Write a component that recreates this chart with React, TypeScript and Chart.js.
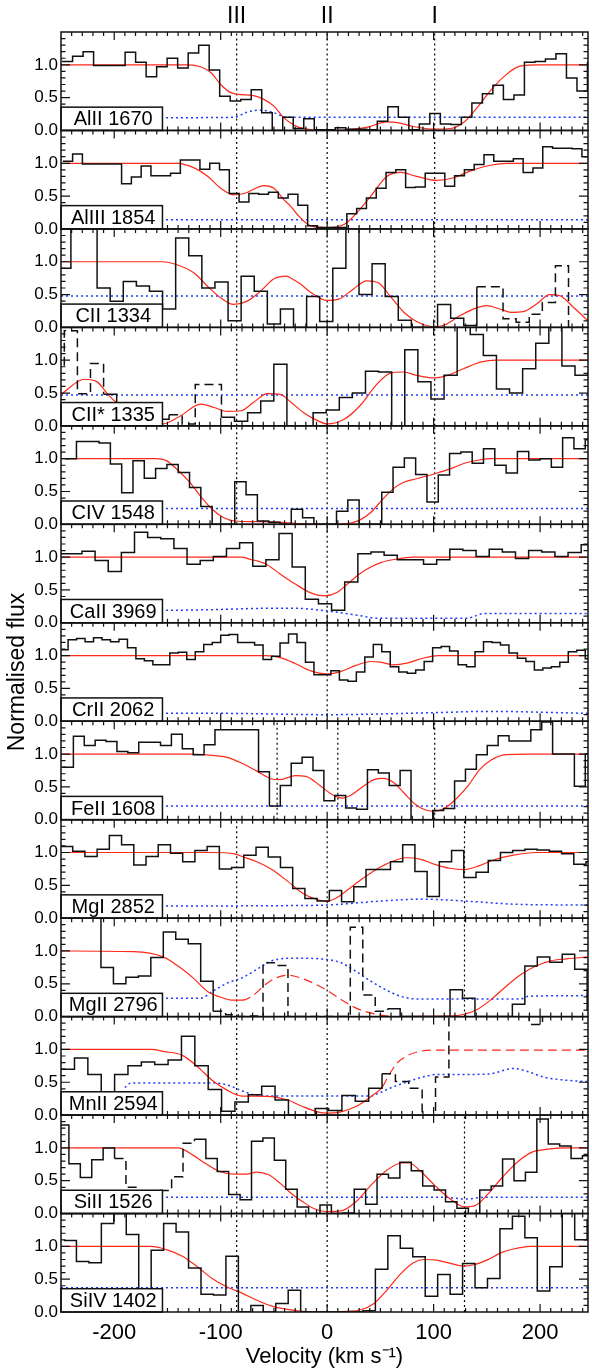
import { useEffect, useRef } from 'react';
import { Chart, registerables } from 'chart.js';

Chart.register(...registerables);

// ---------------- DATA ----------------
const PANEL_LABELS = ['AlII 1670', 'AlIII 1854', 'CII 1334', 'CII* 1335', 'CIV 1548', 'CaII 3969', 'CrII 2062',
  'FeII 1608', 'MgI 2852', 'MgII 2796', 'MnII 2594', 'SiII 1526', 'SiIV 1402'];

const X_TICKS = [-200, -100, 0, 100, 200];
const COMPONENT_VELS = [-85, 0, 101];
const COMPONENT_NAMES = ['III', 'II', 'I'];

// left edge (km/s) of the first pixel bin and bin width (km/s) of each spectrum
const BIN_START = [-249, -248.3, -253, -259.2, -246.1, -255, -251.3, -248.6, -250.5, -247.6, -249.9, -253.3, -247.2];
const BIN_WIDTH = [9.87, 9.2, 12.3, 12.3, 10.62, 12.34, 7.963, 10.23, 11.48, 11.71, 12.56, 10.72, 11.7];

// normalised flux per bin
const FLUX_ALII_1670 = [1.05, 1.13, 1.2, 0.99, 0.99, 0.99, 1.19, 1.04, 0.82, 0.97, 1.1, 0.95, 1.18, 1.3, 0.92, 0.52, 0.45, 0.47, 0.62, 0.27, 0.0, 0.2, 0.03, 0.18, 0.01, 0.01, 0.04, 0.02, 0.02, 0.01, 0.14, 0.36, 0.2, 0.01, 0.1, 0.26, 0.1, 0.09, 0.2, 0.42, 0.56, 0.69, 0.47, 0.54, 1.04, 1.05, 1.09, 1.17, 0.8, 0.6, 1.03];
const FLUX_ALIII_1854 = [1.03, 1.14, 0.99, 0.99, 0.99, 0.99, 0.69, 0.79, 0.96, 0.81, 0.81, 0.85, 1.05, 1.05, 0.91, 1.0, 0.9, 0.54, 0.41, 0.54, 0.53, 0.56, 0.47, 0.53, 0.36, 0.05, 0.02, 0.02, 0.02, 0.23, 0.31, 0.47, 0.62, 0.86, 0.9, 0.63, 0.64, 0.85, 0.85, 0.65, 0.81, 0.9, 0.98, 1.13, 1.03, 1.03, 1.07, 0.86, 0.93, 1.25, 1.23, 1.23, 1.22, 1.1];
const FLUX_CII_1334 = [0.9, 1.7, 1.7, 0.6, 0.4, 0.7, 0.63, 0.55, 0.28, 1.36, 1.09, 0.6, 0.69, 0.1, 0.78, 0.55, 0.05, 0.28, 0.0, 0.47, 0.09, 0.9, 1.7, 0.5, 0.97, 0.47, 0.11, 0.0, 0.0, 0.35, 0.14, 0.03, 0.62, 0.62, 0.13, 0.08, 0.2, 0.38, 0.94, 0.0, 0.0];
const FLUX_CIIS_1335 = [0.9, 1.45, 0.49, 0.95, 0.48, 0.35, 0.2, 0.1, 0.1, 0.17, 0.03, 0.63, 0.63, 0.13, 0.07, 0.2, 0.38, 0.94, 0.0, 0.0, 0.2, 0.24, 0.43, 0.5, 0.83, 0.82, 0.0, 1.16, 0.67, 0.41, 0.77, 1.7, 1.39, 1.07, 0.56, 0.5, 0.87, 1.26, 1.7, 0.91, 0.77, 0.82];
const FLUX_CIV_1548 = [1.0, 1.26, 1.26, 1.24, 0.92, 0.48, 0.97, 0.7, 0.85, 0.91, 0.79, 0.56, 0.27, 0.0, 0.0, 0.65, 0.45, 0.05, 0.03, 0.0, 0.23, 0.1, 0.0, 0.0, 0.2, 0.37, 0.0, 0.0, 0.49, 0.87, 1.01, 0.76, 0.34, 0.75, 1.08, 1.1, 0.93, 1.15, 0.9, 0.78, 1.11, 0.98, 1.0, 0.87, 1.32, 1.15, 1.29];
const FLUX_CAII_3969 = [1.05, 1.05, 1.09, 0.95, 0.78, 1.07, 1.38, 1.3, 1.28, 1.13, 0.89, 0.95, 1.01, 1.13, 1.22, 0.86, 0.96, 1.36, 0.85, 0.36, 0.29, 0.19, 0.62, 1.05, 1.08, 1.03, 0.96, 0.96, 0.89, 0.96, 1.12, 1.1, 1.01, 1.12, 1.08, 0.98, 1.1, 1.08, 1.01, 1.07, 1.19];
const FLUX_CRII_2062 = [1.09, 1.24, 1.26, 1.21, 1.27, 1.24, 1.21, 1.25, 1.12, 0.95, 0.92, 0.86, 0.86, 1.04, 1.05, 0.94, 1.06, 1.17, 1.2, 1.31, 1.32, 1.2, 1.2, 1.16, 0.94, 0.99, 1.19, 1.33, 1.2, 0.9, 0.71, 0.71, 0.77, 0.63, 0.61, 0.75, 0.98, 1.17, 1.06, 0.83, 0.75, 0.73, 0.78, 0.91, 1.12, 1.14, 1.07, 0.86, 0.83, 1.06, 1.21, 1.2, 1.16, 1.04, 0.96, 0.91, 0.78, 0.81, 0.83, 0.9, 1.06, 1.08, 0.95];
const FLUX_FEII_1608 = [0.8, 1.27, 1.13, 1.21, 1.19, 1.04, 1.02, 1.18, 1.18, 1.13, 1.3, 1.08, 0.99, 1.14, 1.37, 1.37, 1.37, 1.37, 0.73, 0.21, 0.52, 0.86, 0.95, 0.75, 0.29, 0.37, 0.18, 0.16, 0.76, 0.71, 0.52, 0.75, 0.0, 0.0, 0.14, 0.17, 0.59, 0.77, 0.99, 1.13, 1.28, 1.2, 1.2, 1.37, 1.49, 1.0, 1.0, 0.51, 1.0];
const FLUX_MGI_2852 = [1.09, 1.02, 0.94, 1.05, 1.26, 1.12, 0.81, 0.94, 1.12, 0.99, 0.86, 1.03, 1.09, 0.75, 0.77, 0.96, 1.08, 0.93, 0.77, 0.45, 0.3, 0.26, 0.42, 0.25, 0.48, 0.74, 0.74, 0.86, 1.12, 0.71, 0.33, 0.86, 1.03, 0.62, 0.7, 0.88, 1.0, 1.03, 1.05, 1.04, 1.02, 0.98, 0.82, 0.86];
const FLUX_MGII_2796 = [1.6, 1.6, 1.6, 0.75, 0.5, 0.6, 0.62, 0.9, 1.29, 1.18, 1.11, 0.54, 0.08, 0.03, 0.0, 0.01, 0.82, 0.78, 0.0, 0.0, 0.0, 0.0, 0.0, 1.36, 0.33, 0.08, 0.12, 0.0, 0.0, 0.0, 0.0, 0.41, 0.28, 0.0, 0.0, 0.0, 0.19, 0.77, 0.91, 0.83, 0.95, 0.72, 0.1];
const FLUX_MNII_2594 = [0.7, 0.87, 0.62, 0.0, 0.62, 0.75, 0.81, 0.77, 0.84, 1.2, 0.75, 0.39, 0.06, 0.2, 0.31, 0.44, 0.23, 0.0, 0.0, 0.1, 0.07, 0.3, 0.21, 0.41, 0.63, 0.51, 0.41, -0.1, 0.58, 1.7, 1.7, 1.7, 1.7, 1.7, 1.7, 1.38, 1.7, 1.7, 1.7, 1.7];
const FLUX_SIII_1526 = [1.35, 0.76, 0.55, 0.82, 1.0, 0.84, 0.4, 0.3, 0.3, 0.35, 0.56, 1.07, 1.13, 0.84, 0.64, 0.29, 0.21, 1.1, 1.15, 0.81, 0.37, 0.1, 0.0, 0.13, 0.0, 0.01, 0.37, 0.14, 0.6, 0.54, 0.78, 0.65, 0.42, 0.36, 0.18, 0.08, 0.0, 0.36, 0.42, 0.83, 0.5, 0.63, 1.44, 1.06, 1.03, 0.84, 0.88];
const FLUX_SIIV_1402 = [1.09, 0.77, 0.75, 1.35, 1.6, 1.18, 0.1, 0.94, 1.35, 1.22, 0.67, 0.27, 0.26, 0.85, 0.0, 0.1, 0.0, 0.13, 0.33, 0.0, 0.0, 0.0, 0.0, 0.0, 0.02, 0.65, 1.16, 0.97, 0.84, 0.24, 0.57, 0.27, 0.74, 0.37, 0.51, 1.27, 1.46, 1.13, 0.32, 0.69, 1.6, 1.1, 1.41];

// fitted model (velocity, flux)
const MODEL_V_ALII_1670 = [-250, -130, -119, -109, -100, -91, -84, -69, -59, -50, -41, -31, -22, 0, 19, 38, 56, 66, 81, 100, 116, 128, 141, 153, 166, 181, 200, 245];
const MODEL_F_ALII_1670 = [1.0, 1.0, 0.97, 0.88, 0.7, 0.58, 0.55, 0.53, 0.47, 0.37, 0.2, 0.08, 0.03, 0.0, 0.01, 0.05, 0.13, 0.12, 0.06, 0.02, 0.03, 0.12, 0.35, 0.6, 0.82, 0.98, 1.0, 1.0];
const MODEL_V_ALIII_1854 = [-250, -140, -125, -112, -100, -88, -78, -59, -50, -41, -34, -28, -16, 0, 17, 28, 41, 56, 69, 84, 103, 119, 134, 153, 169, 245];
const MODEL_F_ALIII_1854 = [1.0, 1.0, 0.93, 0.8, 0.62, 0.52, 0.54, 0.66, 0.62, 0.45, 0.34, 0.22, 0.05, 0.02, 0.08, 0.25, 0.5, 0.8, 0.86, 0.8, 0.74, 0.78, 0.88, 0.97, 1.0, 1.0];
const MODEL_V_CII_1334 = [-250, -155, -144, -125, -112, -100, -88, -75, -62, -50, -38, -34, -25, -16, 0, 11, 25, 37, 48, 59, 72, 84, 100, 111, 125, 141, 150, 162, 173, 184, 197, 209, 219, 231, 245];
const MODEL_F_CII_1334 = [1.0, 1.0, 0.97, 0.83, 0.62, 0.45, 0.35, 0.4, 0.56, 0.74, 0.78, 0.75, 0.66, 0.54, 0.41, 0.43, 0.59, 0.71, 0.68, 0.48, 0.23, 0.09, 0.01, 0.04, 0.18, 0.3, 0.33, 0.28, 0.23, 0.24, 0.36, 0.5, 0.48, 0.31, 0.1];
const MODEL_V_CIIS_1335 = [-250, -228, -216, -206, -197, -185, -170, -154, -138, -119, -106, -94, -81, -69, -56, -44, -34, -22, -9, 0, 16, 31, 47, 59, 72, 84, 100, 113, 128, 144, 159, 245];
const MODEL_F_CIIS_1335 = [0.48, 0.71, 0.67, 0.48, 0.34, 0.2, 0.08, 0.03, 0.15, 0.33, 0.28, 0.22, 0.23, 0.36, 0.49, 0.48, 0.36, 0.2, 0.08, 0.03, 0.1, 0.31, 0.64, 0.8, 0.82, 0.77, 0.73, 0.77, 0.87, 0.97, 1.0, 1.0];
const MODEL_V_CIV_1548 = [-250, -161, -151, -140, -129, -119, -108, -97, -87, -66, -44, -23, 0, 19, 30, 41, 51, 62, 72, 83, 101, 115, 129, 143, 154, 245];
const MODEL_F_CIV_1548 = [1.0, 1.0, 0.97, 0.82, 0.64, 0.43, 0.23, 0.1, 0.05, 0.04, 0.03, 0.01, 0.0, 0.01, 0.06, 0.18, 0.36, 0.54, 0.64, 0.69, 0.77, 0.84, 0.93, 0.98, 1.0, 1.0];
const MODEL_V_CAII_3969 = [-250, -80, -73, -58, -44, -30, -16, -2, 9, 19, 30, 41, 51, 65, 80, 245];
const MODEL_F_CAII_3969 = [1.0, 1.0, 0.97, 0.9, 0.74, 0.59, 0.46, 0.41, 0.46, 0.59, 0.74, 0.85, 0.92, 0.97, 1.0, 1.0];
const MODEL_V_CRII_2062 = [-250, -58, -44, -30, -16, 0, 13, 27, 41, 50, 62, 76, 90, 104, 245];
const MODEL_F_CRII_2062 = [1.0, 1.0, 0.97, 0.88, 0.77, 0.72, 0.76, 0.85, 0.91, 0.9, 0.86, 0.89, 0.96, 1.0, 1.0];
const MODEL_V_FEII_1608 = [-250, -130, -115, -94, -80, -66, -52, -44, -30, -20, -6, 5, 14, 23, 34, 44, 53, 62, 72, 83, 94, 101, 111, 122, 133, 143, 154, 168, 189, 245];
const MODEL_F_FEII_1608 = [1.0, 1.0, 0.99, 0.95, 0.86, 0.74, 0.62, 0.61, 0.67, 0.66, 0.51, 0.38, 0.33, 0.38, 0.51, 0.61, 0.63, 0.57, 0.41, 0.23, 0.14, 0.13, 0.18, 0.33, 0.53, 0.76, 0.91, 0.99, 1.0, 1.0];
const MODEL_V_MGI_2852 = [-250, -108, -87, -80, -66, -52, -37, -23, -9, 0, 9, 19, 34, 48, 62, 74, 87, 101, 115, 129, 143, 157, 175, 196, 245];
const MODEL_F_MGI_2852 = [1.0, 1.0, 0.98, 0.94, 0.86, 0.74, 0.56, 0.38, 0.28, 0.26, 0.31, 0.43, 0.61, 0.76, 0.87, 0.92, 0.9, 0.82, 0.76, 0.74, 0.8, 0.89, 0.96, 1.0, 1.0];
const MODEL_V_MGII_2796 = [-250, -182, -154, -140, -126, -112, -97, -90, -80, -69, -58, -48, -37, -27, -13, 2, 16, 30, 48, 65, 118, 129, 140, 154, 168, 182, 196, 210, 225, 245];
const MODEL_F_MGII_2796 = [1.0, 0.99, 0.91, 0.77, 0.59, 0.38, 0.28, 0.25, 0.25, 0.33, 0.49, 0.59, 0.63, 0.6, 0.51, 0.38, 0.23, 0.11, 0.03, 0.0, 0.01, 0.04, 0.1, 0.26, 0.46, 0.64, 0.77, 0.85, 0.88, 0.91];
const MODEL_V_MNII_2594 = [-250, -165, -154, -136, -122, -108, -94, -80, -66, -52, -37, -23, -9, 0, 13, 27, 41, 52, 56, 65, 76, 87, 101, 245];
const MODEL_F_MNII_2594 = [1.0, 1.0, 0.97, 0.91, 0.74, 0.53, 0.38, 0.29, 0.29, 0.28, 0.23, 0.13, 0.05, 0.03, 0.05, 0.13, 0.28, 0.43, 0.55, 0.78, 0.91, 0.97, 0.99, 0.99];
const MODEL_V_SIII_1526 = [-250, -140, -126, -115, -101, -87, -76, -66, -55, -44, -34, -23, -13, 0, 13, 27, 41, 56, 70, 77, 88, 101, 115, 129, 140, 150, 165, 179, 193, 207, 225, 245];
const MODEL_F_SIII_1526 = [1.0, 1.0, 0.89, 0.77, 0.64, 0.6, 0.6, 0.63, 0.59, 0.46, 0.31, 0.18, 0.08, 0.03, 0.04, 0.18, 0.43, 0.66, 0.77, 0.77, 0.64, 0.43, 0.23, 0.1, 0.13, 0.28, 0.56, 0.79, 0.94, 0.98, 1.0, 1.0];
const MODEL_V_SIIV_1402 = [-250, -165, -151, -136, -122, -108, -94, -83, -66, -52, -37, -23, 0, 19, 31, 44, 56, 69, 81, 91, 103, 116, 128, 138, 150, 163, 175, 191, 245];
const MODEL_F_SIIV_1402 = [1.0, 1.0, 0.95, 0.85, 0.69, 0.51, 0.38, 0.31, 0.18, 0.09, 0.04, 0.01, 0.0, 0.01, 0.03, 0.13, 0.33, 0.58, 0.75, 0.8, 0.79, 0.74, 0.7, 0.72, 0.79, 0.9, 0.96, 1.0, 1.0];

// flux error (velocity, sigma)
const ERR_V_ALII_1670 = [-250, -88, -75, -62, -50, -38, 245];
const ERR_F_ALII_1670 = [0.19, 0.2, 0.28, 0.31, 0.27, 0.2, 0.2];
const ERR_V_FLAT = [-250, 245];
const ERR_F_ALIII_1854 = [0.14, 0.14];
const ERR_F_CII_1334 = [0.48, 0.48];
const ERR_F_CIIS_1335 = [0.47, 0.47];
const ERR_F_CIV_1548 = [0.24, 0.24];
const ERR_V_CAII_3969 = [-250, -108, -58, -30, 0, 30, 48, 132, 147, 245];
const ERR_F_CAII_3969 = [0.17, 0.2, 0.22, 0.22, 0.18, 0.11, 0.07, 0.07, 0.14, 0.14];
const ERR_V_CRII_2062 = [-250, -100, 0, 100, 150, 245];
const ERR_F_CRII_2062 = [0.12, 0.12, 0.1, 0.13, 0.15, 0.12];
const ERR_F_FEII_1608 = [0.21, 0.21];
const ERR_V_MGI_2852 = [-250, -50, 0, 50, 90, 130, 180, 245];
const ERR_F_MGI_2852 = [0.18, 0.19, 0.2, 0.26, 0.29, 0.26, 0.21, 0.2];
const ERR_V_MGII_2796 = [-250, -119, -108, -94, -80, -66, -52, -30, 0, 13, 27, 41, 55, 69, 83, 182, 189, 245];
const ERR_F_MGII_2796 = [0.28, 0.28, 0.38, 0.51, 0.59, 0.72, 0.85, 0.89, 0.87, 0.82, 0.69, 0.54, 0.41, 0.31, 0.27, 0.27, 0.31, 0.32];
const ERR_V_MNII_2594 = [-190, -184, -108, -94, -80, -66, -52, 41, 48, 62, 76, 90, 104, 140, 154, 175, 189, 203, 225, 245];
const ERR_F_MNII_2594 = [0.42, 0.49, 0.49, 0.46, 0.37, 0.3, 0.29, 0.29, 0.33, 0.43, 0.51, 0.58, 0.62, 0.62, 0.63, 0.71, 0.66, 0.58, 0.53, 0.51];
const ERR_V_SIII_1526 = [-250, 110, 129, 150, 245];
const ERR_F_SIII_1526 = [0.25, 0.25, 0.22, 0.25, 0.25];
const ERR_F_SIIV_1402 = [0.37, 0.37];

// velocity components marked in each panel
const VLINES = [[-85, 0, 101], [-85, 0, 101], [-85, 0, 101], [-85, 0, 101], [-85, 0, 101], [0], [0],
  [-47, 10, 101], [-85, 0, 129], [-85, 0, 129], [-85, 0], [-85, 0, 129], [-85, 0, 129]];

// velocity ranges drawn dashed (blended / masked)
const HIST_DASHED = [[], [], [[140, 250]], [[-260, -215], [-150, -105]], [], [], [], [], [], [[-108, 50]], [[51, 250]], [[-200, -130]], []];
const MODEL_DASHED = [[], [], [], [], [], [], [], [], [], [[-80, 60]], [[50, 250]], [], []];

const FLUX = [FLUX_ALII_1670, FLUX_ALIII_1854, FLUX_CII_1334, FLUX_CIIS_1335, FLUX_CIV_1548, FLUX_CAII_3969, FLUX_CRII_2062,
  FLUX_FEII_1608, FLUX_MGI_2852, FLUX_MGII_2796, FLUX_MNII_2594, FLUX_SIII_1526, FLUX_SIIV_1402];
const MODEL_V = [MODEL_V_ALII_1670, MODEL_V_ALIII_1854, MODEL_V_CII_1334, MODEL_V_CIIS_1335, MODEL_V_CIV_1548, MODEL_V_CAII_3969,
  MODEL_V_CRII_2062, MODEL_V_FEII_1608, MODEL_V_MGI_2852, MODEL_V_MGII_2796, MODEL_V_MNII_2594, MODEL_V_SIII_1526, MODEL_V_SIIV_1402];
const MODEL_F = [MODEL_F_ALII_1670, MODEL_F_ALIII_1854, MODEL_F_CII_1334, MODEL_F_CIIS_1335, MODEL_F_CIV_1548, MODEL_F_CAII_3969,
  MODEL_F_CRII_2062, MODEL_F_FEII_1608, MODEL_F_MGI_2852, MODEL_F_MGII_2796, MODEL_F_MNII_2594, MODEL_F_SIII_1526, MODEL_F_SIIV_1402];
const ERR_V = [ERR_V_ALII_1670, ERR_V_FLAT, ERR_V_FLAT, ERR_V_FLAT, ERR_V_FLAT, ERR_V_CAII_3969, ERR_V_CRII_2062,
  ERR_V_FLAT, ERR_V_MGI_2852, ERR_V_MGII_2796, ERR_V_MNII_2594, ERR_V_SIII_1526, ERR_V_FLAT];
const ERR_F = [ERR_F_ALII_1670, ERR_F_ALIII_1854, ERR_F_CII_1334, ERR_F_CIIS_1335, ERR_F_CIV_1548, ERR_F_CAII_3969, ERR_F_CRII_2062,
  ERR_F_FEII_1608, ERR_F_MGI_2852, ERR_F_MGII_2796, ERR_F_MNII_2594, ERR_F_SIII_1526, ERR_F_SIIV_1402];

// ---------------- STYLE ----------------
const FONT = '"Liberation Sans", Arial, Helvetica, sans-serif';
const RED = 'rgb(255,40,25)';
const BLUE = 'rgb(30,60,255)';
const INK = '#111';
const Y_MAX = 1.5;
const LABEL_BOX_TOP = 0.355;
const LABEL_BOX_RIGHT = -154.7;

const inRanges = (x: number, ranges: number[][]) => ranges.some(([a, b]) => x >= a && x < b);

const panelDecor = {
  id: 'panelDecor',
  afterDatasetsDraw(chart: any) {
    const ctx = chart.ctx;
    const xs = chart.scales.x;
    PANEL_LABELS.forEach((label, i) => {
      const ys = chart.scales['y' + i];
      const left = xs.left, right = xs.right, top = ys.top, bottom = ys.bottom;
      ctx.save();
      // ticks (inside)
      ctx.strokeStyle = INK;
      ctx.lineWidth = 1.2;
      ctx.beginPath();
      for (let k = 1; k < 15; k++) {
        const y = ys.getPixelForValue(k / 10);
        const len = k % 5 === 0 ? 9 : 4.5;
        ctx.moveTo(left, y); ctx.lineTo(left + len, y);
        ctx.moveTo(right, y); ctx.lineTo(right - len, y);
      }
      for (let v = -240; v <= 240; v += 10) {
        const x = xs.getPixelForValue(v);
        const len = v % 100 === 0 ? 8 : 4;
        ctx.moveTo(x, bottom); ctx.lineTo(x, bottom - len);
        ctx.moveTo(x, top); ctx.lineTo(x, top + len);
      }
      ctx.stroke();
      // label box
      const bx1 = xs.getPixelForValue(LABEL_BOX_RIGHT);
      const by0 = ys.getPixelForValue(LABEL_BOX_TOP);
      ctx.fillStyle = '#fff';
      ctx.fillRect(left, by0, bx1 - left, bottom - by0);
      ctx.lineWidth = 1.5;
      ctx.strokeStyle = INK;
      ctx.strokeRect(left, by0, bx1 - left, bottom - by0);
      ctx.fillStyle = '#000';
      ctx.font = '20px ' + FONT;
      ctx.textAlign = 'center';
      ctx.textBaseline = 'middle';
      ctx.fillText(label, (left + bx1) / 2 + 1.5, (by0 + bottom) / 2 + 1);
      // frame
      ctx.lineWidth = 1.5;
      ctx.strokeRect(left, top, right - left, bottom - top);
      ctx.restore();
    });
  },
};

export default function App() {
  const ref = useRef<HTMLCanvasElement>(null);

  useEffect(() => {
    document.body.style.margin = '0';
    const canvas = ref.current;
    if (!canvas) return;
    Chart.defaults.font.family = FONT;

    const datasets: any[] = [];
    PANEL_LABELS.forEach((_, i) => {
      const yAxisID = 'y' + i;
      VLINES[i].forEach((v) => {
        datasets.push({
          data: [{ x: v, y: 0 }, { x: v, y: Y_MAX }],
          xAxisID: 'x', yAxisID, borderColor: '#000', borderWidth: 1.2, borderDash: [2, 3],
          pointRadius: 0, order: 3,
        });
      });
      datasets.push({
        data: ERR_V[i].map((v, k) => ({ x: v, y: ERR_F[i][k] })),
        xAxisID: 'x', yAxisID, borderColor: BLUE, borderWidth: 1.5, borderDash: [2, 3],
        pointRadius: 0, cubicInterpolationMode: 'monotone', order: 2,
      });
      const mDash = MODEL_DASHED[i];
      datasets.push({
        data: MODEL_V[i].map((v, k) => ({ x: v, y: MODEL_F[i][k] })),
        xAxisID: 'x', yAxisID, borderColor: RED, borderWidth: 1.2,
        pointRadius: 0, cubicInterpolationMode: 'monotone', order: 1,
        segment: { borderDash: (c: any) => (inRanges(c.p0.parsed.x, mDash) ? [9, 5] : undefined) },
      });
      const flux = FLUX[i];
      const pts = flux.map((f, k) => ({ x: BIN_START[i] + BIN_WIDTH[i] * k, y: f }));
      pts.push({ x: BIN_START[i] + BIN_WIDTH[i] * flux.length, y: flux[flux.length - 1] });
      const hDash = HIST_DASHED[i];
      datasets.push({
        data: pts, xAxisID: 'x', yAxisID, stepped: true, borderColor: INK, borderWidth: 1.5,
        pointRadius: 0, order: 0,
        segment: { borderDash: (c: any) => (inRanges(c.p0.parsed.x, hDash) ? [9, 5] : undefined) },
      });
    });

    const scales: any = {
      x: {
        type: 'linear', position: 'bottom', min: -250, max: 245,
        grid: { display: false, drawTicks: false }, border: { display: false },
        ticks: { font: { size: 22 }, color: '#000', padding: 8, maxRotation: 0, autoSkip: false, callback: (v: any) => String(v) },
        afterBuildTicks: (s: any) => { s.ticks = X_TICKS.map((v) => ({ value: v })); },
        afterFit: (s: any) => { s.height = 60; },
        title: { display: true, text: 'Velocity (km s\u207B\u00B9)', font: { size: 22 }, color: '#000', padding: { top: 0, bottom: 2 } },
      },
      xTop: {
        type: 'linear', position: 'top', min: -250, max: 245,
        grid: { display: false, drawTicks: false }, border: { display: false },
        ticks: { font: { size: 23 }, color: '#000', padding: 2, maxRotation: 0, autoSkip: false, callback: (_v: any, idx: number) => COMPONENT_NAMES[idx] },
        afterBuildTicks: (s: any) => { s.ticks = COMPONENT_VELS.map((v) => ({ value: v })); },
        afterFit: (s: any) => { s.height = 32; },
      },
    };
    for (let i = PANEL_LABELS.length - 1; i >= 0; i--) {
      scales['y' + i] = {
        type: 'linear', position: 'left', stack: 'panels', stackWeight: 1, offset: false,
        min: 0, max: Y_MAX,
        grid: { display: false, drawTicks: false }, border: { display: false },
        ticks: { stepSize: 0.5, font: { size: 17 }, color: '#000', padding: 3, autoSkip: false,
          callback: (v: any) => (Number(v) >= Y_MAX - 1e-6 ? '' : Number(v).toFixed(1)) },
        afterFit: (s: any) => { s.width = 61; },
        title: i === 6
          ? { display: true, text: 'Normalised flux', font: { size: 23 }, color: '#000', padding: { top: 4, bottom: 0 } }
          : { display: false },
      };
    }

    const chart = new Chart(canvas, {
      type: 'line',
      data: { datasets },
      options: {
        responsive: false,
        devicePixelRatio: 1,
        animation: false,
        events: [],
        layout: { padding: { left: 0, right: 4, top: 0, bottom: 0 } },
        plugins: { legend: { display: false }, tooltip: { enabled: false }, title: { display: false } },
        scales,
      } as any,
      plugins: [panelDecor],
    });
    return () => chart.destroy();
  }, []);

  return <canvas ref={ref} width={592} height={1372} style={{ display: 'block', width: 592, height: 1372 }} />;
}
